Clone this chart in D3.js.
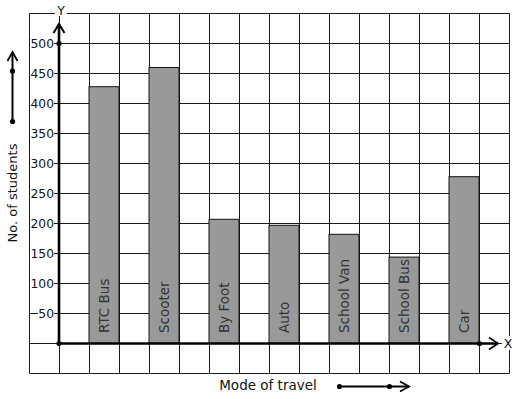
<!DOCTYPE html>
<html>
<head>
<meta charset="utf-8">
<script src="https://cdn.jsdelivr.net/npm/d3@7"></script>
<style>
  body { margin: 0; background: #fff; }
  svg { display: block; font-family: "DejaVu Sans", sans-serif; }
</style>
</head>
<body>
<svg width="517" height="399"></svg>
<script>
var modes = ["RTC Bus", "Scooter", "By Foot", "Auto", "School Van", "School Bus", "Car"];
var students = [428, 460, 207, 197, 182, 144, 278];
var yTicks = [50, 100, 150, 200, 250, 300, 350, 400, 450, 500];

var svg = d3.select("svg");

// y: 30px per 50 students, grid runs from -50 to 550
var y = d3.scaleLinear().domain([0, 550]).range([343.5, 13.5]);
var x = d3.scaleBand().domain(modes).range([89, 479]).paddingInner(0.5).paddingOuter(0);
var gx = d3.scaleLinear().domain([0, 16]).range([29.5, 509.5]);
var x0 = gx(1) - 0.5;

// grid
svg.append("g").selectAll("line")
  .data(d3.range(0, 17)).enter()
  .append("line")
  .attr("x1", function(d) { return gx(d); })
  .attr("x2", function(d) { return gx(d); })
  .attr("y1", y(550))
  .attr("y2", y(-50))
  .attr("stroke", "#1a1a1a")
  .attr("stroke-width", 1);

svg.append("g").selectAll("line")
  .data(d3.range(-50, 551, 50)).enter()
  .append("line")
  .attr("x1", gx(0))
  .attr("x2", gx(16))
  .attr("y1", function(d) { return y(d); })
  .attr("y2", function(d) { return y(d); })
  .attr("stroke", "#1a1a1a")
  .attr("stroke-width", 1);

// bars
svg.append("g").selectAll("rect")
  .data(students).enter()
  .append("rect")
  .attr("x", function(d, i) { return x(modes[i]); })
  .attr("y", function(d) { return y(d); })
  .attr("width", x.bandwidth())
  .attr("height", function(d) { return y(0) - y(d); })
  .attr("fill", "#999999")
  .attr("stroke", "#111")
  .attr("stroke-width", 1);

svg.append("g").selectAll("text")
  .data(modes).enter()
  .append("text")
  .attr("transform", function(d) { return "translate(" + (x(d) + x.bandwidth()/2 + 4.5) + "," + 333 + ") rotate(-90)"; })
  .attr("text-anchor", "start")
  .attr("font-size", 13.5)
  .attr("fill", "#333")
  .text(function(d) { return d; });

// y tick labels with white backing
var ticks = svg.append("g").selectAll("g")
  .data(yTicks).enter()
  .append("g");

ticks.append("rect")
  .attr("x", function(d) { return d < 100 ? 38 : 30; })
  .attr("y", function(d) { return y(d) - 6; })
  .attr("width", function(d) { return d < 100 ? 16 : 24; })
  .attr("height", 12)
  .attr("fill", "#fff");

ticks.append("text")
  .attr("x", 54)
  .attr("y", function(d) { return y(d) + 4.5; })
  .attr("text-anchor", "end")
  .attr("font-size", 12.3)
  .attr("fill", "#111")
  .text(function(d) { return d; });

// axes
var axisW = 2.6;
svg.append("line")
  .attr("x1", x0).attr("y1", y(0))
  .attr("x2", x0).attr("y2", 24)
  .attr("stroke", "#000").attr("stroke-width", axisW);
svg.append("path")
  .attr("d", "M" + (x0 - 5.5) + ",33 L" + x0 + ",24 L" + (x0 + 5.5) + ",33")
  .attr("fill", "none").attr("stroke", "#000").attr("stroke-width", 2);

svg.append("line")
  .attr("x1", x0).attr("y1", y(0))
  .attr("x2", 498).attr("y2", y(0))
  .attr("stroke", "#000").attr("stroke-width", axisW);
svg.append("path")
  .attr("d", "M489," + (y(0) - 6) + " L498," + y(0) + " L489," + (y(0) + 6))
  .attr("fill", "none").attr("stroke", "#000").attr("stroke-width", 1.8);

svg.selectAll(".dot")
  .data([[x0, y(0)], [x0, y(500)], [479.5, y(0)]]).enter()
  .append("circle")
  .attr("cx", function(d) { return d[0]; })
  .attr("cy", function(d) { return d[1]; })
  .attr("r", 2.6)
  .attr("fill", "#000");

// Y and X letters
svg.append("rect").attr("x", 55).attr("y", 4).attr("width", 12).attr("height", 12).attr("fill", "#fff");
svg.append("text")
  .attr("x", 61).attr("y", 15)
  .attr("text-anchor", "middle")
  .attr("font-size", 12.5)
  .attr("fill", "#111")
  .text("Y");

svg.append("rect").attr("x", 502).attr("y", 336).attr("width", 12).attr("height", 14).attr("fill", "#fff");
svg.append("text")
  .attr("x", 508).attr("y", 347.5)
  .attr("text-anchor", "middle")
  .attr("font-size", 12.5)
  .attr("fill", "#111")
  .text("X");

// axis titles
svg.append("text")
  .attr("transform", "translate(17,193) rotate(-90)")
  .attr("text-anchor", "middle")
  .attr("font-size", 13)
  .attr("fill", "#111")
  .text("No. of students");

svg.append("text")
  .attr("x", 268)
  .attr("y", 390)
  .attr("text-anchor", "middle")
  .attr("font-size", 13.5)
  .attr("fill", "#111")
  .text("Mode of travel");

// direction arrows
svg.append("line")
  .attr("x1", 12.5).attr("y1", 121.5).attr("x2", 12.5).attr("y2", 52)
  .attr("stroke", "#000").attr("stroke-width", 2);
svg.append("path")
  .attr("d", "M7.5,61 L12.5,52 L17.5,61")
  .attr("fill", "none").attr("stroke", "#000").attr("stroke-width", 1.8);
svg.append("line")
  .attr("x1", 339.5).attr("y1", 386.5).attr("x2", 409).attr("y2", 386.5)
  .attr("stroke", "#000").attr("stroke-width", 2);
svg.append("path")
  .attr("d", "M400,381.5 L409,386.5 L400,391.5")
  .attr("fill", "none").attr("stroke", "#000").attr("stroke-width", 1.8);

svg.selectAll(".adot")
  .data([[12.5, 121.5], [12.5, 71], [339.5, 386.5], [389.5, 386.5]]).enter()
  .append("circle")
  .attr("cx", function(d) { return d[0]; })
  .attr("cy", function(d) { return d[1]; })
  .attr("r", 2.6)
  .attr("fill", "#000");
</script>
</body>
</html>
